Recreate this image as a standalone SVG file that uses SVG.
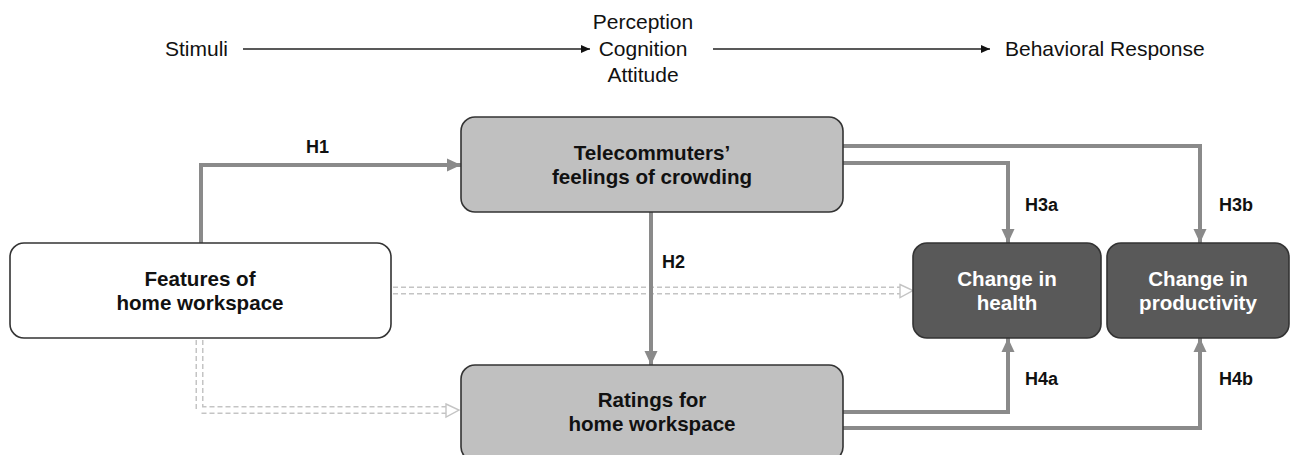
<svg xmlns="http://www.w3.org/2000/svg" width="1295" height="455" viewBox="0 0 1295 455">
  <style>
    .flow { font-family: "Liberation Sans", Arial, sans-serif; font-size: 21px; fill: #111; }
    .lbl { font-family: "Liberation Sans", Arial, sans-serif; font-size: 20.6px; font-weight: bold; text-anchor: middle; }
    .hyp { font-family: "Liberation Sans", Arial, sans-serif; font-size: 18px; font-weight: bold; fill: #111; }
    .box { stroke: #333; stroke-width: 1.6; }
    .light { fill: #c0c0c0; }
    .white { fill: #ffffff; }
    .dark { fill: #595959; }
    .link { fill: none; stroke: #8a8a8a; stroke-width: 4; }
    .thin { fill: none; stroke: #222; stroke-width: 1.3; }
    .dbl-out { fill: none; stroke: #c4c4c4; stroke-width: 8; stroke-dasharray: 5 3; }
    .dbl-in { fill: none; stroke: #ffffff; stroke-width: 5; }
    .open-head { fill: #ffffff; stroke: #c4c4c4; stroke-width: 1.4; }
  </style>
  <defs>
    <marker id="grayHead" markerUnits="userSpaceOnUse" markerWidth="15" markerHeight="15" viewBox="0 0 15 15" refX="14" refY="7.5" orient="auto">
      <path d="M0,1 L14,7.5 L0,14 Z" fill="#8a8a8a"/>
    </marker>
    <marker id="blackHead" markerUnits="userSpaceOnUse" markerWidth="10" markerHeight="10" viewBox="0 0 10 10" refX="9" refY="5" orient="auto">
      <path d="M0,1 L9,5 L0,9 Z" fill="#111"/>
    </marker>
  </defs>

  <rect width="1295" height="455" fill="#ffffff"/>

  <!-- S-O-R framework header -->
  <g id="header">
    <text class="flow" x="165" y="56">Stimuli</text>
    <text class="flow" x="643" y="29" text-anchor="middle">Perception</text>
    <text class="flow" x="643" y="56" text-anchor="middle">Cognition</text>
    <text class="flow" x="643" y="82" text-anchor="middle">Attitude</text>
    <text class="flow" x="1005" y="56">Behavioral Response</text>
    <path class="thin" d="M243,49 H590" marker-end="url(#blackHead)"/>
    <path class="thin" d="M713,49 H990" marker-end="url(#blackHead)"/>
  </g>

  <!-- connectors -->
  <g id="connectors">
    <!-- indirect (double dashed) paths -->
    <path class="dbl-out" d="M393,290.5 H902"/>
    <path class="dbl-in" d="M393,290.5 H902"/>
    <path class="open-head" d="M900,284.5 L913,290.5 L900,297.5 Z"/>
    <path class="dbl-out" d="M199.5,340 V410 H448"/>
    <path class="dbl-in" d="M199.5,340 V410 H448"/>
    <path class="open-head" d="M446,404 L459,410 L446,417 Z"/>

    <!-- hypothesised paths -->
    <path class="link" d="M201,243 V165 H461" marker-end="url(#grayHead)"/>
    <path class="link" d="M651,212 V365" marker-end="url(#grayHead)"/>
    <path class="link" d="M843,163 H1008 V243" marker-end="url(#grayHead)"/>
    <path class="link" d="M843,146 H1200 V243" marker-end="url(#grayHead)"/>
    <path class="link" d="M843,412 H1008 V338" marker-end="url(#grayHead)"/>
    <path class="link" d="M843,428 H1200 V338" marker-end="url(#grayHead)"/>

    <text class="hyp" x="306" y="153">H1</text>
    <text class="hyp" x="662" y="268">H2</text>
    <text class="hyp" x="1025" y="211">H3a</text>
    <text class="hyp" x="1219" y="211">H3b</text>
    <text class="hyp" x="1025" y="385">H4a</text>
    <text class="hyp" x="1219" y="385">H4b</text>
  </g>

  <g id="features">
    <rect class="box white" x="10" y="243" width="381" height="95" rx="14"/>
    <text class="lbl" x="200" y="286" fill="#111">Features of</text>
    <text class="lbl" x="200" y="310" fill="#111">home workspace</text>
  </g>

  <g id="crowding">
    <rect class="box light" x="461" y="117" width="382" height="95" rx="14"/>
    <text class="lbl" x="652" y="160" fill="#111">Telecommuters’</text>
    <text class="lbl" x="652" y="184" fill="#111">feelings of crowding</text>
  </g>

  <g id="ratings">
    <rect class="box light" x="461" y="365" width="382" height="96" rx="14"/>
    <text class="lbl" x="652" y="407" fill="#111">Ratings for</text>
    <text class="lbl" x="652" y="431" fill="#111">home workspace</text>
  </g>

  <g id="health">
    <rect class="box dark" x="913" y="243" width="188" height="95" rx="14"/>
    <text class="lbl" x="1007" y="286" fill="#ffffff">Change in</text>
    <text class="lbl" x="1007" y="310" fill="#ffffff">health</text>
  </g>

  <g id="productivity">
    <rect class="box dark" x="1107" y="243" width="182" height="95" rx="14"/>
    <text class="lbl" x="1198" y="286" fill="#ffffff">Change in</text>
    <text class="lbl" x="1198" y="310" fill="#ffffff">productivity</text>
  </g>
</svg>
